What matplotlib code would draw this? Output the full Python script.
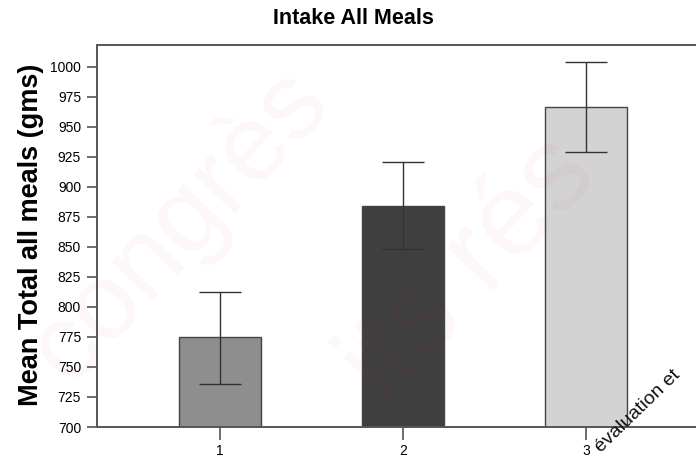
import matplotlib
matplotlib.use("Agg")
import matplotlib.pyplot as plt
import numpy as np

categories = ["1", "2", "3"]
means = [775, 884, 966]
err_low = [736, 848, 929]
err_high = [812, 921, 1004]
yticks = [700, 725, 750, 775, 800, 825, 850, 875, 900, 925, 950, 975, 1000]
bar_colors = ["#8e8e8e", "#3f3f3f", "#d3d3d3"]

narrow = ["Liberation Sans Narrow", "Liberation Sans", "DejaVu Sans"]
bold = ["Liberation Sans", "DejaVu Sans"]

fig = plt.figure(figsize=(6.96, 4.61), dpi=100)
ax = fig.add_axes([97/696, 34/461, 612/696, 382/461])

x = np.arange(1, len(categories) + 1)
means_a = np.array(means)
yerr = np.vstack([means_a - np.array(err_low), np.array(err_high) - means_a])
ax.bar(x, means_a - 700, bottom=700, width=0.45, color=bar_colors,
       edgecolor="#444444", linewidth=1.0, zorder=2)
ax.errorbar(x, means_a, yerr=yerr, fmt="none", ecolor="#333333",
            elinewidth=1.0, capsize=15, capthick=1.0, zorder=3)

ax.set_xlim(0.33, 3.67)
ax.set_ylim(700, 1018)
ax.set_yticks(yticks)
ax.set_yticklabels([str(t) for t in yticks], family=narrow, fontsize=10)
ax.set_xticks(x)
ax.set_xticklabels(categories, family=narrow, fontsize=10)
ax.tick_params(axis="y", direction="out", length=7.5, width=1.2, color="#555555", pad=4)
ax.tick_params(axis="x", direction="out", length=9, width=1.2, color="#555555", pad=3)
for s in ax.spines.values():
    s.set_color("#555555")
    s.set_linewidth(1.4)

ax.set_ylabel("Mean Total all meals (gms)", family=bold, fontweight="bold",
              fontsize=19.5)
ax.yaxis.set_label_coords(-(97 - 44) / 612, (461 - 235 - 34) / 382)
fig.text(353/696, 1 - 18/461, "Intake All Meals", family=bold, fontweight="bold",
         fontsize=15.5, ha="center", va="center")

# watermark
wm = dict(color=(0.85, 0.2, 0.2), alpha=0.045, ha="center", va="center",
          family=bold, zorder=10, rotation=47)
fig.text(180/696, 1 - 225/461, "congrès", fontsize=78, **wm)
fig.text(470/696, 1 - 270/461, "its rés", fontsize=85, **wm)
fig.text(601/696, 1 - 453/461, "évaluation et", fontsize=14, color="#111111",
         rotation=44, ha="left", va="baseline", rotation_mode="anchor",
         family=bold, zorder=11)

fig.savefig("out.png", dpi=100)
